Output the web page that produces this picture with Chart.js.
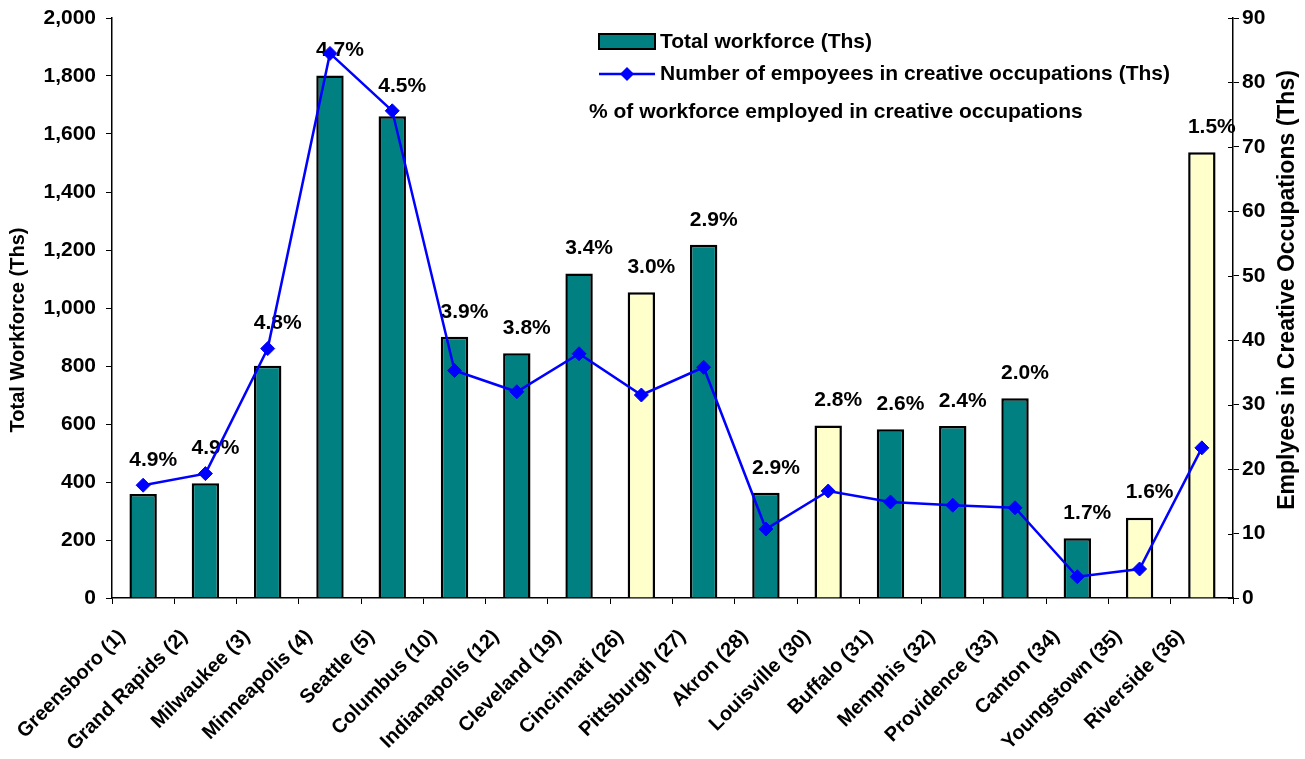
<!DOCTYPE html>
<html>
<head>
<meta charset="utf-8">
<script src="https://cdn.jsdelivr.net/npm/chart.js@4.4.1/dist/chart.umd.min.js"></script>
<style>
  html, body { margin: 0; padding: 0; background: #fff; }
  #wrap { width: 1305px; height: 759px; position: relative; }
</style>
</head>
<body>
<div id="wrap"><canvas id="chart"></canvas></div>
<script>
// data
const cities = [
  "Greensboro (1)", "Grand Rapids (2)", "Milwaukee (3)", "Minneapolis (4)", "Seattle (5)",
  "Columbus (10)", "Indianapolis (12)", "Cleveland (19)", "Cincinnati (26)", "Pittsburgh (27)",
  "Akron (28)", "Louisville (30)", "Buffalo (31)", "Memphis (32)", "Providence (33)",
  "Canton (34)", "Youngstown (35)", "Riverside (36)"
];
const workforce = [359, 396, 801, 1802, 1661, 901, 844, 1119, 1054, 1218, 363, 595, 582, 593, 689, 206, 277, 1537];
const creative = [17.5, 19.3, 38.7, 84.5, 75.6, 35.3, 32.0, 37.9, 31.5, 35.8, 10.7, 16.6, 14.9, 14.4, 14.0, 3.3, 4.5, 23.3];
const shares = ["4.9%", "4.9%", "4.8%", "4.7%", "4.5%", "3.9%", "3.8%", "3.4%", "3.0%", "2.9%",
  "2.9%", "2.8%", "2.6%", "2.4%", "2.0%", "1.7%", "1.6%", "1.5%"];
const paleCities = ["Cincinnati (26)", "Louisville (30)", "Youngstown (35)", "Riverside (36)"];

const TEAL = "#008080";
const PALE = "#FFFFCC";
const BLUE = "#0000FF";
const FONT = "'Liberation Sans', Arial, sans-serif";

// percentage labels above the bars
const shareLabels = {
  id: "shareLabels",
  beforeDatasetsDraw(chart) {
    const ctx = chart.ctx;
    const bars = chart.getDatasetMeta(1).data;
    const pts = chart.getDatasetMeta(0).data;
    ctx.save();
    ctx.font = "bold 21px " + FONT;
    ctx.fillStyle = "#000";
    ctx.textAlign = "center";
    ctx.textBaseline = "middle";
    bars.forEach((bar, i) => {
      let y = Math.min(bar.y, pts[i].y) - 25;
      if (y < chart.chartArea.top + 30) y = bar.y - 25;
      ctx.fillText(shares[i], bar.x + 10, y);
    });
    ctx.restore();
  }
};

// legend, axis titles and the crossing ticks of the right axis
const extras = {
  id: "extras",
  afterDraw(chart) {
    const ctx = chart.ctx;
    const area = chart.chartArea;
    const x0 = area.left + 487;
    ctx.save();
    ctx.font = "bold 21px " + FONT;
    ctx.textBaseline = "middle";
    ctx.textAlign = "left";

    ctx.fillStyle = TEAL;
    ctx.fillRect(x0, 34, 56, 15);
    ctx.strokeStyle = "#000";
    ctx.lineWidth = 2;
    ctx.strokeRect(x0, 34, 56, 15);
    ctx.fillStyle = "#000";
    ctx.fillText("Total workforce (Ths)", x0 + 61, 42);

    ctx.strokeStyle = BLUE;
    ctx.lineWidth = 2.5;
    ctx.beginPath();
    ctx.moveTo(x0, 74);
    ctx.lineTo(x0 + 56, 74);
    ctx.stroke();
    ctx.fillStyle = BLUE;
    ctx.beginPath();
    ctx.moveTo(x0 + 28, 67);
    ctx.lineTo(x0 + 35, 74);
    ctx.lineTo(x0 + 28, 81);
    ctx.lineTo(x0 + 21, 74);
    ctx.closePath();
    ctx.fill();
    ctx.fillStyle = "#000";
    ctx.fillText("Number of empoyees in creative occupations (Ths)", x0 + 61, 74);
    ctx.fillText("% of workforce employed in creative occupations", x0 - 10, 112);

    // axis titles, both reading bottom to top
    ctx.textAlign = "center";
    ctx.font = "bold 20px " + FONT;
    ctx.save();
    ctx.translate(18, 330);
    ctx.rotate(-Math.PI / 2);
    ctx.fillText("Total Workforce (Ths)", 0, 0);
    ctx.restore();
    ctx.font = "bold 23px " + FONT;
    ctx.save();
    ctx.translate(1288, 290);
    ctx.rotate(-Math.PI / 2);
    ctx.fillText("Emplyees in Creative Occupations (Ths)", 0, 0);
    ctx.restore();

    // inner half of the right-axis tick marks
    const y2 = chart.scales.y2;
    ctx.strokeStyle = "#000";
    ctx.lineWidth = 1;
    y2.ticks.forEach(t => {
      const py = Math.round(y2.getPixelForValue(t.value)) + 0.5;
      ctx.beginPath();
      ctx.moveTo(area.right - 5, py);
      ctx.lineTo(area.right, py);
      ctx.stroke();
    });
    ctx.restore();
  }
};

const canvas = document.getElementById("chart");
new Chart(canvas, {
  data: {
    labels: cities,
    datasets: [
      {
        type: "line",
        label: "Number of empoyees in creative occupations (Ths)",
        data: creative,
        yAxisID: "y2",
        borderColor: BLUE,
        borderWidth: 2.5,
        pointStyle: "rectRot",
        pointRadius: 7,
        pointBackgroundColor: BLUE,
        pointBorderColor: BLUE,
        pointBorderWidth: 1,
        tension: 0,
        order: 0
      },
      {
        type: "bar",
        label: "Total workforce (Ths)",
        data: workforce,
        yAxisID: "y",
        backgroundColor: cities.map(c => paleCities.includes(c) ? PALE : TEAL),
        borderColor: "#000",
        borderWidth: 2.5,
        barPercentage: 0.44,
        categoryPercentage: 1,
        order: 1
      }
    ]
  },
  options: {
    responsive: true,
    maintainAspectRatio: false,
    animation: false,
    layout: { padding: { top: 18, left: 0, right: 0, bottom: 0 } },
    plugins: {
      legend: { display: false },
      tooltip: { enabled: false }
    },
    scales: {
      x: {
        grid: { display: true, drawOnChartArea: false, offset: true, tickLength: 6, color: "#000", lineWidth: 1 },
        border: { color: "#000", width: 1.5 },
        ticks: {
          color: "#000",
          font: { family: FONT, size: 20, weight: "bold" },
          minRotation: 45,
          maxRotation: 45,
          autoSkip: false,
          labelOffset: -21,
          padding: 21
        },
        afterFit: s => { s.height = 161; }
      },
      y: {
        position: "left",
        min: 0,
        max: 2000,
        ticks: {
          stepSize: 200,
          color: "#000",
          padding: 10,
          font: { family: FONT, size: 21, weight: "bold", lineHeight: 1 },
          callback: v => v.toLocaleString("en-US")
        },
        grid: { drawOnChartArea: false, tickLength: 6, color: "#000" },
        border: { color: "#000", width: 1.5 },
        afterFit: s => { s.width = 112; s.paddingTop = 0; }
      },
      y2: {
        position: "right",
        min: 0,
        max: 90,
        ticks: {
          stepSize: 10,
          color: "#000",
          padding: 3,
          font: { family: FONT, size: 21, weight: "bold", lineHeight: 1 }
        },
        grid: { drawOnChartArea: false, tickLength: 6, color: "#000" },
        border: { color: "#000", width: 1.5 },
        afterFit: s => { s.width = 72; s.paddingTop = 0; }
      }
    }
  },
  plugins: [shareLabels, extras]
});
</script>
</body>
</html>
